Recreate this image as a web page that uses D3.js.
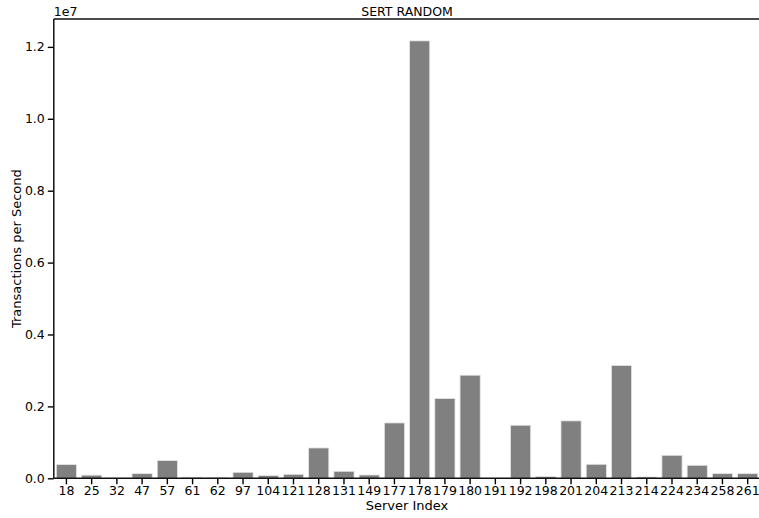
<!DOCTYPE html>
<html>
<head>
<meta charset="utf-8">
<script src="https://cdn.jsdelivr.net/npm/d3@7"></script>
<style>
  html, body { margin: 0; padding: 0; background: #fff; }
  svg { display: block; font-family: "DejaVu Sans", sans-serif; }
</style>
</head>
<body>
<svg id="chart" width="759" height="518"></svg>
<script>
// Server indices on the x axis
const servers = ["18", "25", "32", "47", "57", "61", "62", "97", "104", "121",
  "128", "131", "149", "177", "178", "179", "180", "191", "192", "198",
  "201", "204", "213", "214", "224", "234", "258", "261"];

// Transactions per second for each server
const tps = [380000, 88000, 5000, 130000, 492000, 30000, 25000, 167000, 75000, 111000,
  844000, 195000, 92000, 1540000, 12167000, 2220000, 2868000, 0, 1476000, 52000,
  1597000, 390000, 3140000, 37000, 640000, 362000, 130000, 130000];

// Y axis tick values (in units of 1e7)
const yTicks = [0, 0.2, 0.4, 0.6, 0.8, 1.0, 1.2];

const svg = d3.select("#chart");
const margin = { left: 53.8, top: 19, bottom: 478.3 };
const plotRight = 760.3;
const font = "'DejaVu Sans', sans-serif";

const x = d3.scaleBand()
  .domain(servers)
  .range([margin.left, plotRight])
  .paddingInner(0.2)
  .paddingOuter(0.1);

const y = d3.scaleLinear()
  .domain([0, d3.max(tps) * 1.05])
  .range([margin.bottom, margin.top]);

// Bars
svg.append("g")
  .selectAll("rect")
  .data(servers.map((s, i) => ({ s, v: tps[i] })))
  .join("rect")
  .attr("x", d => x(d.s))
  .attr("width", x.bandwidth())
  .attr("y", d => y(d.v))
  .attr("height", d => y(0) - y(d.v))
  .attr("fill", "#808080")
  .attr("stroke", "#e6e6e6")
  .attr("stroke-width", 0.8);

// Y axis
const yAxis = d3.axisLeft(y)
  .tickValues(yTicks.map(t => t * 1e7))
  .tickFormat(d => d3.format(".1f")(d / 1e7))
  .tickSizeOuter(0)
  .tickSize(6)
  .tickPadding(3);

const gy = svg.append("g")
  .attr("transform", `translate(${margin.left},0)`)
  .call(yAxis);

// X axis
const xAxis = d3.axisBottom(x).tickSizeOuter(0).tickSize(6).tickPadding(2);
const gx = svg.append("g")
  .attr("transform", `translate(0,${margin.bottom})`)
  .call(xAxis);

[gx, gy].forEach(g => {
  g.attr("font-family", font);
  g.selectAll("text").attr("font-size", 12.5).attr("fill", "#000");
  g.selectAll(".tick line").attr("stroke", "#000").attr("stroke-width", 1.4);
  g.select(".domain").remove();
});

// Spines: left, bottom, top
const spine = svg.append("g").attr("stroke", "#111").attr("stroke-width", 1.5).attr("fill", "none");
spine.append("line").attr("x1", margin.left).attr("x2", margin.left)
  .attr("y1", margin.top).attr("y2", margin.bottom);
spine.append("line").attr("x1", margin.left).attr("x2", plotRight)
  .attr("y1", margin.bottom).attr("y2", margin.bottom);
spine.append("line").attr("x1", margin.left).attr("x2", plotRight)
  .attr("y1", margin.top).attr("y2", margin.top);

// Scale offset label
svg.append("text")
  .attr("x", margin.left)
  .attr("y", 16)
  .attr("font-size", 12.5)
  .text("1e7");

// Title
svg.append("text")
  .attr("x", (margin.left + plotRight) / 2)
  .attr("y", 16)
  .attr("text-anchor", "middle")
  .attr("font-size", 12.5)
  .text("SERT RANDOM");

// Axis labels
svg.append("text")
  .attr("x", (margin.left + plotRight) / 2)
  .attr("y", 510)
  .attr("text-anchor", "middle")
  .attr("font-size", 13)
  .text("Server Index");

svg.append("text")
  .attr("transform", `translate(21,${(margin.top + margin.bottom) / 2}) rotate(-90)`)
  .attr("text-anchor", "middle")
  .attr("font-size", 13)
  .text("Transactions per Second");
</script>
</body>
</html>
